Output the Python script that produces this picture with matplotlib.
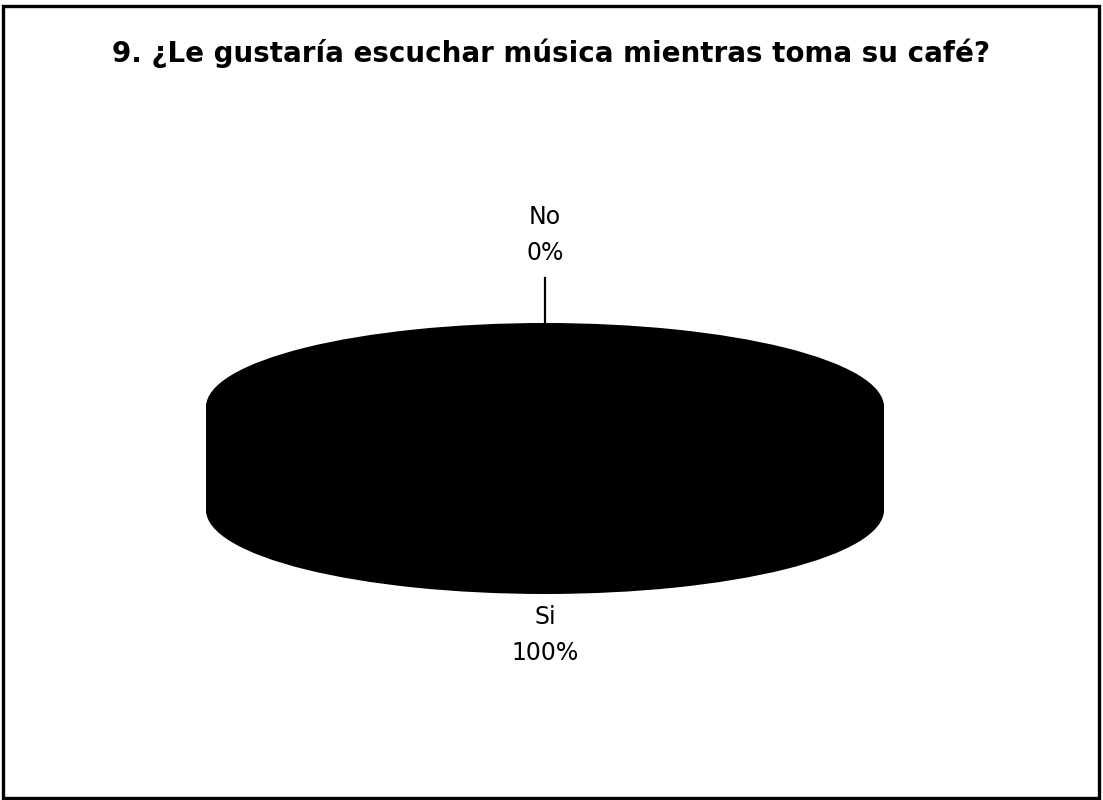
import matplotlib
matplotlib.use("Agg")
import matplotlib.pyplot as plt
from matplotlib.patches import Rectangle
import numpy as np

title = "9. ¿Le gustaría escuchar música mientras toma su café?"
categories = ["Si", "No"]
values = [100, 0]
colors = ["black", "black"]

plt.rcParams['font.family'] = ['DejaVu Sans']

W, H = 1103, 800
fig = plt.figure(figsize=(W / 100, H / 100), dpi=100)

# frame around the chart area
fig.patches.append(Rectangle((3 / W, 2 / H), (1099 - 3) / W, (794 - 2) / H,
                             transform=fig.transFigure, fill=False,
                             edgecolor="black", linewidth=2.4))

fig.text(551 / W, 1 - 53 / H, title, ha="center", va="center",
         fontsize=20, fontweight="bold")

# axes in pixel geometry: ellipse x 206..884, top 323, bottom 594
ax = fig.add_axes([206 / W, (H - 594) / H, 678 / W, (594 - 323) / H])
ry = 84.0
thick = (510 - 407) / ry
ax.set_xlim(-1, 1)
ax.set_ylim(-thick - 1, 1)

nonzero = [v if v > 0 else 1e-9 for v in values]
# pie side: stack of pies from bottom up to top
for off in np.linspace(-thick, 0, 60):
    ax.pie(nonzero, colors=colors, startangle=90, counterclock=False,
           center=(0, off), radius=1, frame=True,
           wedgeprops=dict(linewidth=0, antialiased=True))
ax.set_aspect("auto")
ax.set_xlim(-1, 1)
ax.set_ylim(-thick - 1, 1)
ax.axis("off")

# labels
total = sum(values)
start = 90.0
for cat, v in zip(categories, values):
    frac = v / total
    mid = np.deg2rad(start - frac * 360 / 2)
    start -= frac * 360
    x, y = np.cos(mid), np.sin(mid)
    txt = f"{cat}\n{frac * 100:.0f}%"
    if y > 0:
        ax.plot([x, x], [y + 1 / ry, y + 45 / ry], color="black", lw=1.6,
                clip_on=False)
        ax.text(x, (407 - 235) / ry, txt, ha="center", va="center",
                fontsize=17, linespacing=1.6, clip_on=False)
    else:
        ax.text(x, (407 - 635) / ry, txt, ha="center", va="center",
                fontsize=17, linespacing=1.6, clip_on=False)

fig.savefig("out.png", dpi=100, facecolor="white")
